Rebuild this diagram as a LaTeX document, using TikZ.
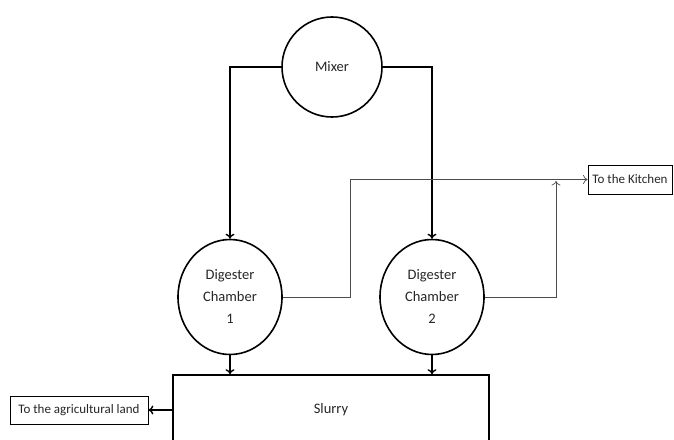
\documentclass[tikz,border=0pt]{standalone}
\usepackage{fontspec}
\setmainfont{Carlito}
\usetikzlibrary{shapes.geometric,arrows.meta}
\tikzset{
  unit/.style={draw, line width=1.6pt, text=black!85, align=center, inner sep=0pt,
               font=\fontsize{14.5}{22}\selectfont},
  vessel/.style={unit, ellipse, minimum width=104pt, minimum height=115pt},
  outbox/.style={draw, line width=0.8pt, text=black!85, inner sep=0pt,
                 font=\fontsize{13}{15}\selectfont},
  flow/.style={line width=1.4pt, -{To[length=5pt,width=9pt,line width=1.4pt]}},
  gas/.style={line width=0.7pt, draw=black!70, -{To[length=4.5pt,width=9pt]}}
}
\begin{document}
\begin{tikzpicture}[x=1pt,y=-1pt]
\useasboundingbox (0,0) rectangle (674,439);

% units
\node[unit, circle, minimum size=100pt] (mixer) at (332,67) {Mixer};
\node[vessel] (d1) at (230,297) {Digester\\Chamber\\1};
\node[vessel] (d2) at (432,297) {Digester\\Chamber\\2};
\node[unit, rectangle, minimum width=316pt, minimum height=70pt,
      font=\fontsize{14.5}{16}\selectfont] (slurry) at (331,410) {Slurry};

% destinations
\node[outbox, minimum width=84pt, minimum height=29pt] (kitchen) at (630,179.5) {To the Kitchen};
\node[outbox, minimum width=138pt, minimum height=28pt] (land) at (79,410) {To the agricultural land};
\coordinate (join) at (556,181);

% feed from the mixer
\draw[flow] (mixer.west) -| (d1.north);
\draw[flow] (mixer.east) -| (d2.north);

% digestate into the slurry tank
\draw[flow] (d1.south) -- (d1.south |- slurry.north);
\draw[flow] (d2.south) -- (d2.south |- slurry.north);
\draw[flow] (slurry.west) -- (land.east);

% biogas lines
\draw[gas] (d1.east) -- ++(68,0) |- (kitchen.west);
\draw[gas] (d2.east) -| (join);
\end{tikzpicture}
\end{document}
